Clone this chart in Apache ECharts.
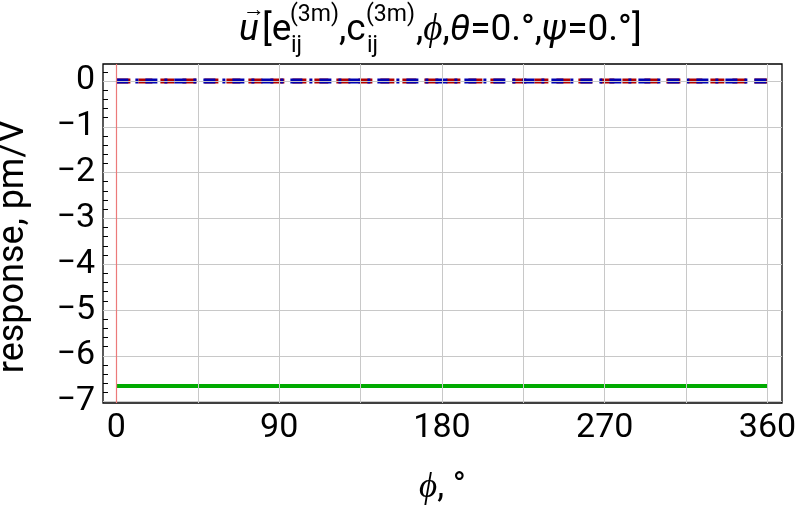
<!DOCTYPE html>
<html><head><meta charset="utf-8">
<script src="https://cdn.jsdelivr.net/npm/echarts@6/dist/echarts.min.js"></script>
<style>html,body{margin:0;padding:0;background:#fff}#c{width:800px;height:511px}</style>
</head><body><div id="c"></div>
<script>
// data
const phi = [0, 45, 90, 135, 180, 225, 270, 315, 360];
const seriesGreen = [-6.66, -6.66, -6.66, -6.66, -6.66, -6.66, -6.66, -6.66, -6.66];
const seriesRed = [0, 0, 0, 0, 0, 0, 0, 0, 0];
const seriesBlue = [0, 0, 0, 0, 0, 0, 0, 0, 0];
const xTickLabels = [0, 90, 180, 270, 360];
const xGrid = [45, 90, 135, 180, 225, 270, 315, 360];
const yTickLabels = [-7, -6, -5, -4, -3, -2, -1, 0];
const yMinorTicks = [-7, -6.8, -6.6, -6.4, -6.2, -6, -5.8, -5.6, -5.4, -5.2, -5, -4.8, -4.6, -4.4, -4.2, -4, -3.8, -3.6, -3.4, -3.2, -3, -2.8, -2.6, -2.4, -2.2, -2, -1.8, -1.6, -1.4, -1.2, -1, -0.8, -0.6, -0.4, -0.2, 0, 0.2];
const xMin = -7.4, xMax = 368, yMin = -7.03, yMax = 0.37;

const chart = echarts.init(document.getElementById('c'), null, {renderer: 'canvas'});
const F = 'Roboto';
const pairs = a => phi.map((x, i) => [x, a[i]]);
const T = (text, x, y, size, extra) => Object.assign({
  type: 'text', x: x, y: y, silent: true,
  style: Object.assign({text: text, fontFamily: F, fontSize: size, fill: '#000', align: 'left', verticalAlign: 'middle'}, extra || {})
});
const MAIN = 37, SMALL = 23, yMain = 31, ySup = 15, ySub = 46;
const option = {
  animation: false,
  backgroundColor: '#fff',
  grid: {left: 103, right: 18, top: 64, bottom: 108, containLabel: false, outerBoundsMode: 'none',
    show: true, borderColor: '#000', borderWidth: 1.3, backgroundColor: 'transparent'},
  xAxis: [{
    type: 'value', min: xMin, max: xMax,
    name: '{i|ϕ}, °', nameLocation: 'middle', nameGap: 68,
    nameTextStyle: {fontFamily: F, fontSize: 35, color: '#000', rich: {i: {fontFamily: F, fontSize: 35, fontStyle: 'italic', color: '#000'}}},
    axisLine: {show: false},
    axisTick: {show: true, inside: true, length: 7, customValues: xTickLabels, lineStyle: {color: '#000', width: 1}},
    axisLabel: {customValues: xTickLabels, fontFamily: F, fontSize: 34, color: '#000', margin: 8},
    splitLine: {show: false}
  }],
  yAxis: [{
    type: 'value', min: yMin, max: yMax,
    name: '{t|response, pm/V}{s|}', nameLocation: 'middle', nameGap: 71,
    nameTextStyle: {fontFamily: F, fontSize: 36, color: '#000',
      rich: {t: {fontFamily: F, fontSize: 36, color: '#000'}, s: {width: 26, fontSize: 36}}},
    axisLine: {show: false},
    axisTick: {show: true, inside: true, length: 7, customValues: yTickLabels, lineStyle: {color: '#000', width: 1}},
    axisLabel: {customValues: yTickLabels, fontFamily: F, fontSize: 34, color: '#000', margin: 8,
      formatter: v => (v < 0 ? '\u2212' + Math.abs(v) : String(v))},
    splitLine: {show: false}
  }, {
    type: 'value', min: yMin, max: yMax, position: 'left',
    axisLine: {show: false},
    axisTick: {show: true, inside: true, length: 5, customValues: yMinorTicks, lineStyle: {color: '#000', width: 1}},
    axisLabel: {show: false},
    splitLine: {show: false}
  }],
  series: [
    {
      type: 'line', name: 'grid', data: [], silent: true,
      markLine: {
        silent: true, symbol: 'none', label: {show: false}, animation: false,
        lineStyle: {color: '#c8c8c8', width: 1, type: 'solid'},
        data: xGrid.map(v => ({xAxis: v})).concat(yTickLabels.map(v => ({yAxis: v})))
          .concat([{xAxis: 0, lineStyle: {color: '#ec7a7a', width: 1.2, type: 'solid'}}])
      }
    },
    {type: 'line', data: pairs(seriesGreen), showSymbol: false, lineStyle: {color: '#00aa00', width: 4}},
    {type: 'line', data: pairs(seriesRed), showSymbol: false, lineStyle: {color: '#b00000', width: 5, type: [14, 8]}},
    {type: 'line', data: pairs(seriesBlue), showSymbol: false, lineStyle: {color: '#0000b0', width: 5, type: [12, 7, 3, 7]}}
  ],
  graphic: [
    T('u', 239, yMain, MAIN, {fontStyle: 'italic'}),
    T('\u2192', 243, 10, 22),
    T('[e', 262, yMain, MAIN),
    T('(3m)', 290, ySup, SMALL),
    T('ij', 291, ySub, SMALL),
    T(',c', 339, yMain, MAIN),
    T('(3m)', 366, ySup, SMALL),
    T('ij', 367, ySub, SMALL),
    T(',{i|ϕ},{i|θ}=0.°,{i|ψ}=0.°]', 416, yMain, MAIN,
      {rich: {i: {fontFamily: F, fontSize: MAIN, fontStyle: 'italic', fill: '#000'}}})
  ]
};
chart.setOption(option);
</script></body></html>
